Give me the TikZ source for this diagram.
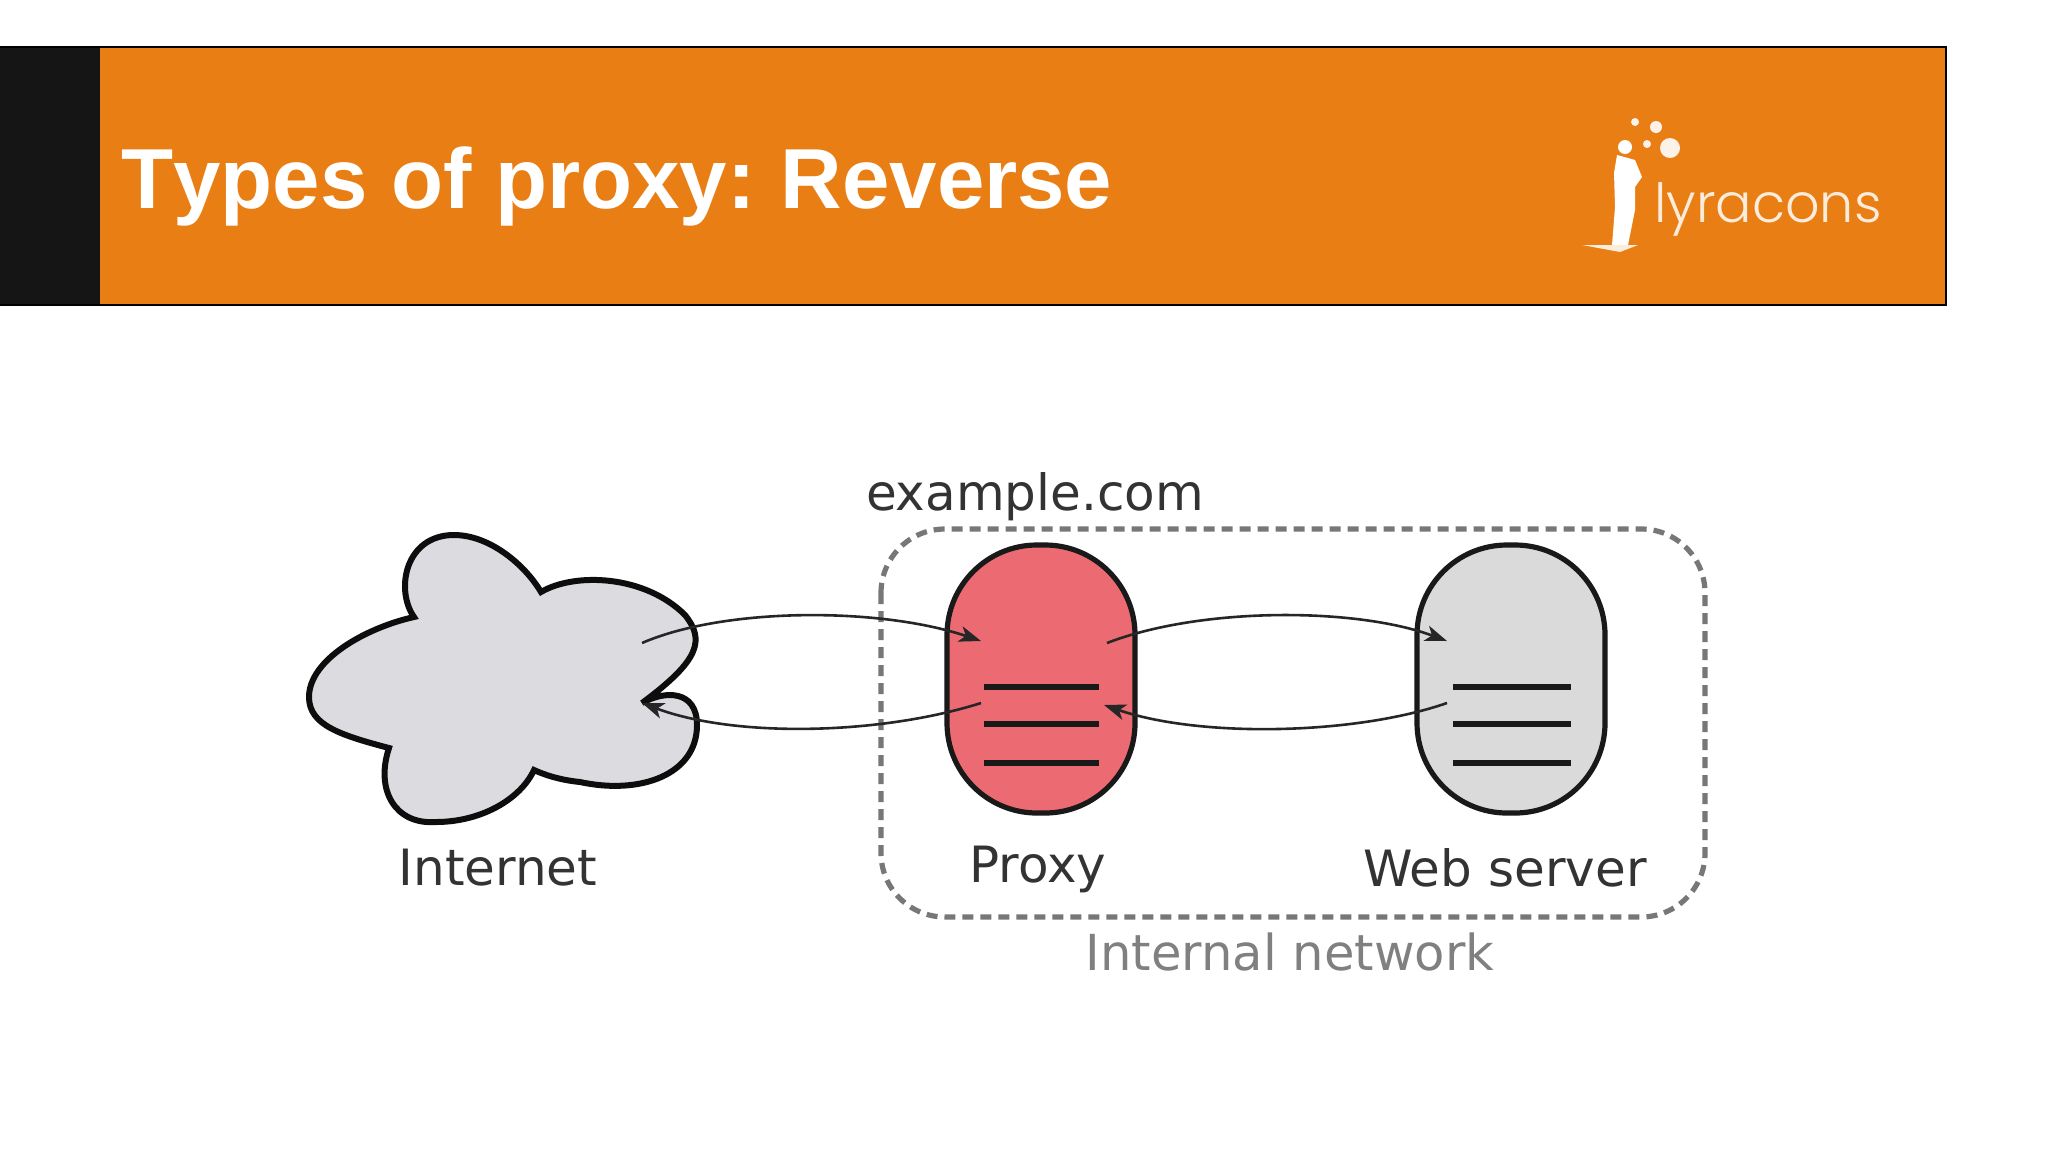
\documentclass[tikz,border=0pt]{standalone}
\usepackage{fontspec}
\usetikzlibrary{arrows.meta}
\setmainfont{DejaVu Sans}
\newfontfamily\titlefont[Kerning=Off]{Liberation Sans}
\newfontfamily\logofont{Poppins Light}
\definecolor{barorange}{HTML}{E97E14}
\definecolor{barblack}{HTML}{151515}
\definecolor{hostgray}{HTML}{DADADA}
\definecolor{cloudgray}{HTML}{DCDCE0}
\definecolor{proxyred}{HTML}{EC6B73}
\definecolor{edgegray}{HTML}{77777A}
\tikzset{
    label text/.style = {anchor=base, inner sep=0pt, font=\fontsize{25}{25}\selectfont, text=black!80},
    host/.style = {draw=black!90, line width=2.6pt, minimum width=94pt, minimum height=134pt, rounded corners=45pt, inner sep=0pt},
    flow/.style = {line width=1.3pt, black!85, -{Stealth[length=11pt, width=8pt, inset=3pt]}},
    bar/.style = {line width=2.8pt, black!90}
}

\begin{document}
\begin{tikzpicture}[x=0.5pt, y=-0.5pt]
    \useasboundingbox (0,0) rectangle (2048,1152);
    % header
    \fill[barorange] (100,47) rectangle (1946,305);
    \fill[barblack] (0,47) rectangle (100,305);
    \draw[black, line width=0.8pt] (0,47) -- (1946,47) -- (1946,305) -- (0,305);
    \node[anchor=base west, inner sep=0pt, text=white, font=\titlefont\bfseries\fontsize{42.6}{42.6}\selectfont] (title) at (121,208) {Types of proxy:\hspace{-3.2pt} Reverse};
    % logo
    \fill[white] (1625,147) circle(7);
    \fill[white] (1617,155) -- (1635,160) -- (1642,177) -- (1635,187) -- (1635,210) -- (1628,245) -- (1612,245) -- (1615,207) -- (1614,173) -- cycle;
    \fill[white!85!barorange] (1582,245) -- (1638,245) -- (1620,252) -- cycle;
    \foreach \cx/\cy/\cr in {1635/122/4, 1656/127/6, 1647/144/4, 1670/148/10}
        \fill[white!90!barorange] (\cx,\cy) circle(\cr);
    \node[anchor=base west, inner sep=0pt, text=white!85!barorange, font=\logofont\fontsize{27}{27}\selectfont] (logo) at (1654,222) {lyracons};
    % internal network box
    \draw[edgegray, line width=2.6pt, dash pattern=on 5.5pt off 3.5pt, rounded corners=32pt] (881,529) rectangle (1705,917);
    \node[label text, text=black!50, font=\fontsize{24.8}{25}\selectfont] (inner) at (1290,970) {Internal network};
    \node[label text, font=\fontsize{25}{25}\selectfont] (domain) at (1035,510) {example.com};
    % cloud
    \draw[fill=cloudgray, line width=3pt, draw=black!95] (541,592) .. controls (575,572) and (645,575) .. (685,615)
        .. controls (705,640) and (700,660) .. (642,703)
        .. controls (665,690) and (697,690) .. (697,725)
        .. controls (697,775) and (640,795) .. (580,782)
        .. controls (560,780) and (545,775) .. (534,770)
        .. controls (520,800) and (480,822) .. (436,822)
        .. controls (395,825) and (375,790) .. (389,748)
        .. controls (340,735) and (309,725) .. (309,697)
        .. controls (309,660) and (365,628) .. (414,617)
        .. controls (395,590) and (405,535) .. (454,535)
        .. controls (490,535) and (525,565) .. (541,592) -- cycle;
    \node[label text] (internet) at (498,885) {Internet};
    % hosts
    \node[host, fill=proxyred] (proxy) at (1041,679) {};
    \node[host, fill=hostgray] (web) at (1511,679) {};
    \node[label text] (proxylabel) at (1038,882) {Proxy};
    \node[label text] (weblabel) at (1505,886) {Web server};
    \foreach \ly in {687,724,763} {
        \draw[bar] (984,\ly) -- (1099,\ly);
        \draw[bar] (1453,\ly) -- (1571,\ly);
    }
    % connector ends
    \coordinate (netout) at (642,643);
    \coordinate (netin) at (642,703);
    \coordinate (proxyinl) at (981,641);
    \coordinate (proxyoutl) at (981,703);
    \coordinate (proxyoutr) at (1107,643);
    \coordinate (proxyinr) at (1104,705);
    \coordinate (webin) at (1447,641);
    \coordinate (webout) at (1447,703);
    % flows
    \draw[flow] (netout) .. controls (725,607) and (880,607) .. (proxyinl);
    \draw[flow] (proxyoutl) .. controls (880,735) and (735,738) .. (netin);
    \draw[flow] (proxyoutr) .. controls (1200,607) and (1355,607) .. (webin);
    \draw[flow] (webout) .. controls (1355,735) and (1200,738) .. (proxyinr);
\end{tikzpicture}
\end{document}
